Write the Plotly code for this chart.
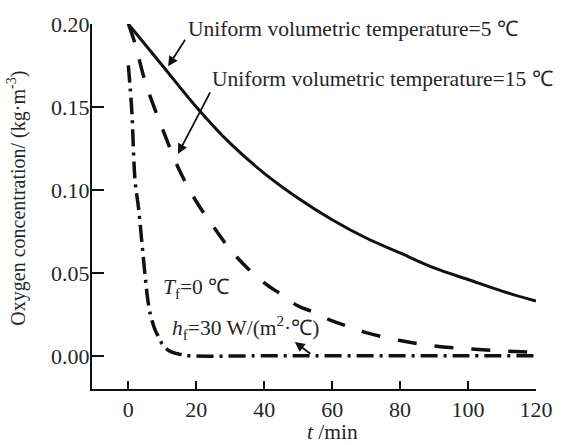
import plotly.graph_objects as go

# ---- data ----
t_solid = [0, 10, 20, 30, 40, 50, 60, 70, 80, 90, 100, 110, 120]
c_solid = [0.200, 0.175, 0.150, 0.128, 0.110, 0.095, 0.082, 0.071, 0.062, 0.053, 0.046, 0.039, 0.033]

t_dash = [0, 2, 5, 10, 15, 20, 25, 30, 35, 40, 45, 50, 55, 60, 65, 70, 80, 90, 100, 110, 120]
c_dash = [0.200, 0.188, 0.165, 0.137, 0.112, 0.093, 0.078, 0.064, 0.053, 0.044, 0.037, 0.030,
          0.026, 0.021, 0.0175, 0.014, 0.0092, 0.006, 0.0042, 0.003, 0.002]

t_dd = [0, 1, 2, 3, 4, 5, 6, 7, 8, 9, 10, 12, 14, 16, 18, 40, 60, 80, 100, 120]
c_dd = [0.175, 0.148, 0.105, 0.089, 0.068, 0.047, 0.030, 0.021, 0.015, 0.011, 0.007, 0.003,
        0.0015, 0.0006, 0.0, 0.0, 0.0, 0.0, 0.0, 0.0]

x_ticks = [0, 20, 40, 60, 80, 100, 120]
y_ticks = [0.00, 0.05, 0.10, 0.15, 0.20]
y_ticklabels = ["0.00", "0.05", "0.10", "0.15", "0.20"]

FONT = "Liberation Serif, Times New Roman, serif"
TXT = "#262626"

fig = go.Figure()
fig.add_trace(go.Scatter(x=t_solid, y=c_solid, mode="lines", line=dict(color="#111", width=3, shape="spline")))
fig.add_trace(go.Scatter(x=t_dash, y=c_dash, mode="lines",
                         line=dict(color="#111", width=3.5, dash="19px,18px", shape="spline")))
fig.add_trace(go.Scatter(x=t_dd, y=c_dd, mode="lines",
                         line=dict(color="#111", width=3.5, dash="17px,6px,3px,6px", shape="spline")))

AF = 21.5
ann = []
# text labels
ann.append(dict(x=16.9, y=0.197, xref="x", yref="y", text="Uniform volumetric temperature=5 ℃",
                showarrow=False, xanchor="left", yanchor="middle", font=dict(size=AF, family=FONT, color=TXT)))
ann.append(dict(x=23.9, y=0.1667, xref="x", yref="y", text="Uniform volumetric temperature=15 ℃",
                showarrow=False, xanchor="left", yanchor="middle", font=dict(size=AF, family=FONT, color=TXT)))
ann.append(dict(x=9.7, y=0.0408, xref="x", yref="y", text="<i>T</i><sub>f</sub>=0 ℃",
                showarrow=False, xanchor="left", yanchor="middle", font=dict(size=AF, family=FONT, color=TXT)))
ann.append(dict(x=12.3, y=0.0168, xref="x", yref="y", text="<i>h</i><sub>f</sub>=30 W/(m<sup>2</sup>·℃)",
                showarrow=False, xanchor="left", yanchor="middle", font=dict(size=AF, family=FONT, color=TXT)))
# arrows
for (hx, hy, ax, ay) in [(11.7, 0.1745, 18, -28), (14.6, 0.1217, 33, -63), (49.0, 0.0084, 17, 13)]:
    ann.append(dict(x=hx, y=hy, xref="x", yref="y", text="", showarrow=True, ax=ax, ay=ay,
                    arrowhead=2, arrowsize=1.1, arrowwidth=1.8, arrowcolor="#111"))
# axis titles
ann.append(dict(x=60, y=-0.117, xref="x", yref="paper", text="<i>t</i> /min", showarrow=False,
                xanchor="center", yanchor="middle", font=dict(size=AF, family=FONT, color=TXT)))
ann.append(dict(x=-0.17, y=0.523, xref="paper", yref="paper",
                text="Oxygen concentration/ (kg·m<sup>-3</sup>)", textangle=-90, showarrow=False,
                xanchor="center", yanchor="middle", font=dict(size=20, family=FONT, color=TXT)))

fig.update_layout(
    width=565, height=445,
    margin=dict(l=92, r=18, t=22, b=56),
    paper_bgcolor="white", plot_bgcolor="white",
    showlegend=False,
    annotations=ann,
    font=dict(family=FONT, size=22, color=TXT),
)
fig.update_xaxes(range=[-10.7, 120], tickvals=x_ticks, ticks="inside", ticklen=8, tickwidth=1.5,
                 tickcolor="#111", showline=True, linecolor="#111", linewidth=2, showgrid=False,
                 zeroline=False, tickfont=dict(size=22, family=FONT, color=TXT))
fig.update_yaxes(range=[-0.02, 0.2], tickvals=y_ticks, ticktext=y_ticklabels, ticks="inside", ticklen=12,
                 tickwidth=1.5, tickcolor="#111", showline=True, linecolor="#111", linewidth=2,
                 showgrid=False, zeroline=False, ticklabelstandoff=-4,
                 tickfont=dict(size=22, family=FONT, color=TXT))

fig.write_html("out.html")
